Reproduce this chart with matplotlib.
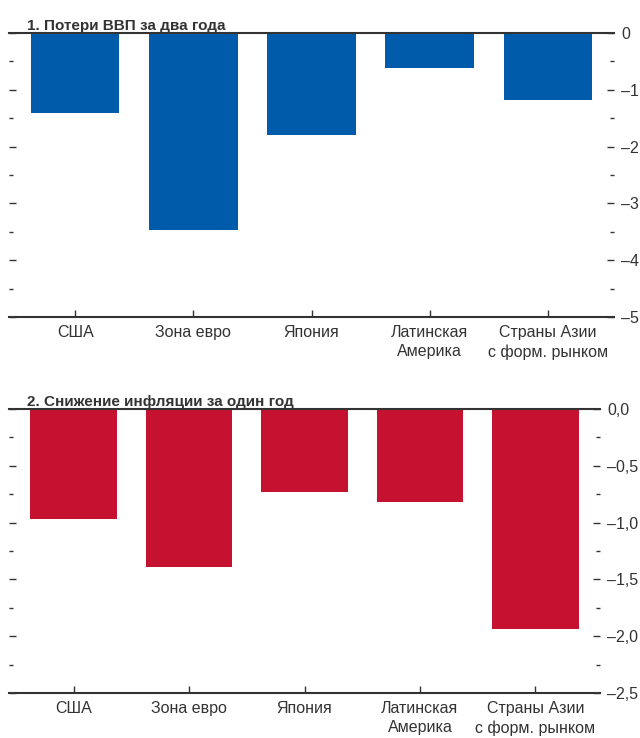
import numpy as np
import matplotlib.pyplot as plt
from matplotlib.ticker import FixedLocator, MultipleLocator

plt.rcParams['font.family'] = ['Liberation Sans Narrow', 'Liberation Sans', 'DejaVu Sans']

# Data
categories = ['США', 'Зона евро', 'Япония', 'Латинская\nАмерика', 'Страны Азии\nс форм. рынком']
gdp_loss = [-1.41, -3.46, -1.80, -0.62, -1.18]
infl_drop = [-0.97, -1.39, -0.73, -0.82, -1.94]
gdp_ticks = [0, -1, -2, -3, -4, -5]
gdp_labels = ['0', '–1', '–2', '–3', '–4', '–5']
infl_ticks = [0.0, -0.5, -1.0, -1.5, -2.0, -2.5]
infl_labels = ['0,0', '–0,5', '–1,0', '–1,5', '–2,0', '–2,5']

blue = '#005BAA'
red = '#C41230'
dark = '#333333'

W, H = 640, 738
fig = plt.figure(figsize=(W / 100, H / 100), dpi=100)

def box(l, r, t, b):
    return [l / W, 1 - b / H, (r - l) / W, (b - t) / H]

ax1 = fig.add_axes(box(9, 614, 33, 317))
ax2 = fig.add_axes(box(9, 600, 409, 693))

def style(ax, values, color, ticks, labels, ylim, minor, title):
    x = np.arange(len(categories))
    ax.bar(x, values, width=0.75, color=color, zorder=2)
    ax.set_xlim(-0.56, 4.56)
    ax.set_ylim(*ylim)
    for s in ['left', 'right']:
        ax.spines[s].set_visible(False)
    for s in ['top', 'bottom']:
        ax.spines[s].set_color(dark)
        ax.spines[s].set_linewidth(1.5)
        ax.spines[s].set_zorder(3)
    ax.set_xticks(x)
    ax.set_xticklabels(categories, fontsize=11.5, color=dark, linespacing=1.3)
    ax.tick_params(axis='x', direction='in', length=5, width=1, color=dark,
                   top=False, bottom=True, pad=6)
    ax.yaxis.set_major_locator(FixedLocator(ticks))
    ax.set_yticklabels(labels)
    ax.yaxis.set_minor_locator(MultipleLocator(minor))
    ax.tick_params(axis='y', which='both', direction='in', left=True, right=True,
                   labelleft=False, labelright=True, color=dark, width=1)
    ax.tick_params(axis='y', which='major', length=5, labelsize=11.5,
                   labelcolor=dark, pad=5)
    ax.tick_params(axis='y', which='minor', length=3)
    ax.text(0.03, 1.0, title, transform=ax.transAxes, ha='left', va='bottom',
            fontsize=11, fontweight='bold', color=dark)

style(ax1, gdp_loss, blue, gdp_ticks, gdp_labels, (-5, 0), 0.5,
      '1. Потери ВВП за два года')
style(ax2, infl_drop, red, infl_ticks, infl_labels, (-2.5, 0), 0.25,
      '2. Снижение инфляции за один год')

fig.savefig('out.png', dpi=100)
